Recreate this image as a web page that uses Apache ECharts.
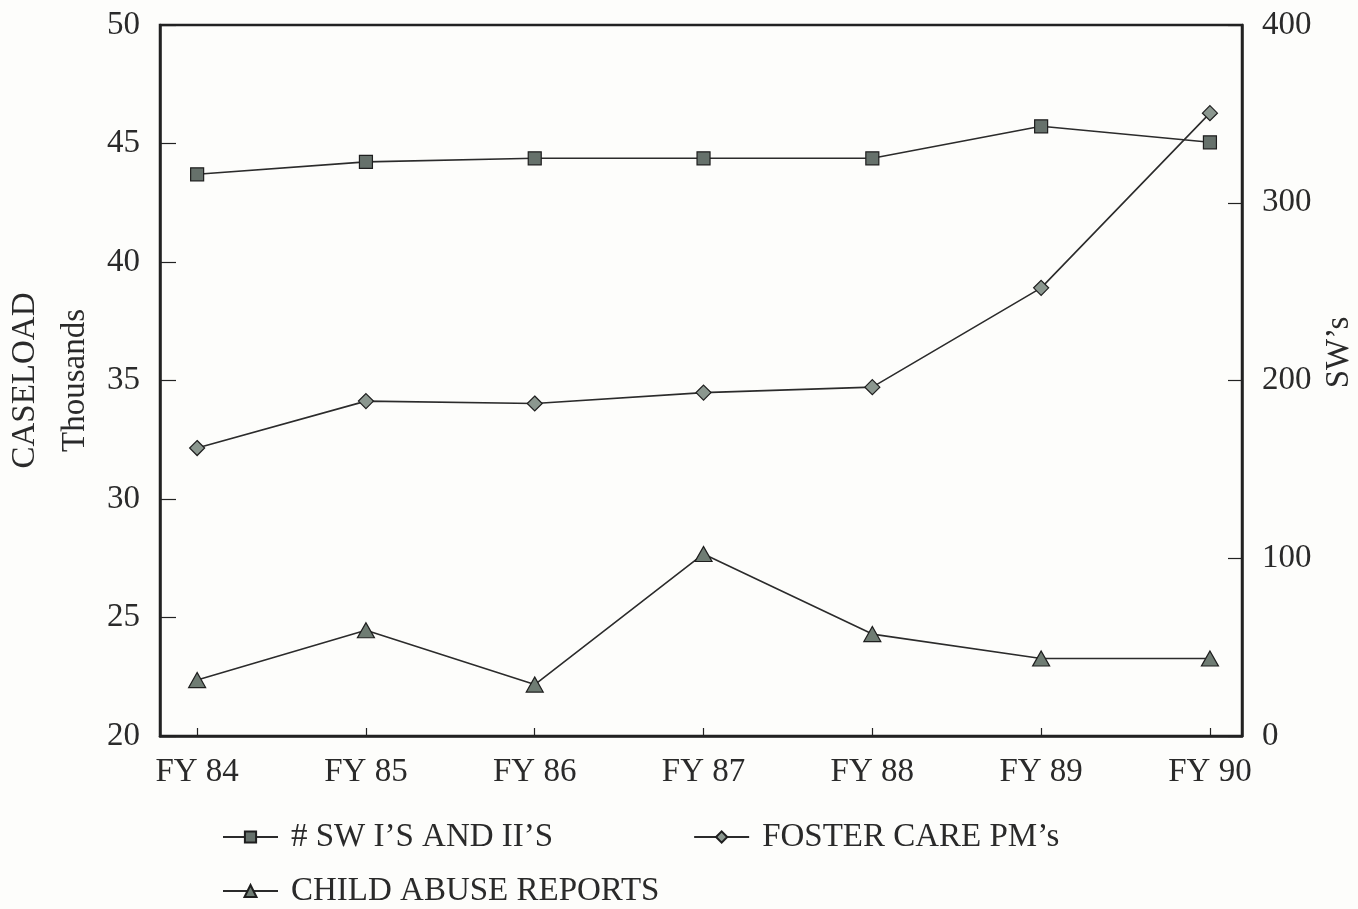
<!DOCTYPE html>
<html>
<head>
<meta charset="utf-8">
<script src="https://cdn.jsdelivr.net/npm/echarts@6/dist/echarts.min.js"></script>
<style>
  html, body { margin: 0; padding: 0; background: #fdfdfb; }
  #chart { width: 1358px; height: 909px; }
</style>
</head>
<body>
<div id="chart"></div>
<script>
// ---- data ----
const categories = ['FY 84', 'FY 85', 'FY 86', 'FY 87', 'FY 88', 'FY 89', 'FY 90'];
const swCount = [316, 323, 325, 325, 325, 343, 334];               // SW's (right axis)
const fosterCare = [32.15, 34.13, 34.03, 34.49, 34.72, 38.91, 46.28]; // thousands (left axis)
const childAbuse = [22.36, 24.46, 22.17, 27.68, 24.30, 23.27, 23.27]; // thousands (left axis)
const leftTicks = [20, 25, 30, 35, 40, 45, 50];
const rightTicks = [0, 100, 200, 300, 400];
const seriesNames = ["# SW I\u2019S AND II\u2019S", "FOSTER CARE PM\u2019s", "CHILD ABUSE REPORTS"];

const FONT = "'Liberation Serif', 'DejaVu Serif', serif";
const INK = '#222';
const idx = categories.map((c, i) => i);
const pairs = arr => arr.map((v, i) => [idx[i], v]);

const chart = echarts.init(document.getElementById('chart'), null, { renderer: 'canvas' });

const txt = { fontFamily: FONT, fontSize: 33, color: '#2a2a2a' };

chart.setOption({
  backgroundColor: '#fdfdfb',
  animation: false,
  grid: {
    left: 160, right: 116, top: 25, bottom: 173,
    outerBoundsMode: 'none', containLabel: false,
    show: true, borderColor: INK, borderWidth: 2.5, backgroundColor: 'transparent'
  },
  xAxis: {
    type: 'value',
    min: -0.22, max: 6.19,
    splitLine: { show: false },
    axisLine: { show: true, onZero: false, lineStyle: { color: INK, width: 2.5 } },
    axisTick: { show: true, inside: true, length: 8, customValues: idx, lineStyle: { color: INK, width: 1.2 } },
    axisLabel: {
      customValues: idx, margin: 20,
      formatter: v => categories[Math.round(v)], ...txt
    }
  },
  yAxis: [
    {
      type: 'value', min: leftTicks[0], max: leftTicks[leftTicks.length - 1], interval: 5,
      position: 'left',
      splitLine: { show: false },
      axisLine: { show: true, onZero: false, lineStyle: { color: INK, width: 2.5 } },
      axisTick: { show: true, inside: true, length: 16, lineStyle: { color: INK, width: 1.2 } },
      axisLabel: { margin: 20, ...txt },
      name: 'CASELOAD\nThousands',
      nameLocation: 'middle', nameRotate: 90, nameGap: 60, nameMoveOverlap: false,
      nameTextStyle: { ...txt, lineHeight: 50 }
    },
    {
      type: 'value', min: rightTicks[0], max: rightTicks[rightTicks.length - 1], interval: 100,
      position: 'right',
      splitLine: { show: false },
      axisLine: { show: true, onZero: false, lineStyle: { color: INK, width: 2.5 } },
      axisTick: { show: true, inside: true, length: 14, lineStyle: { color: INK, width: 1.2 } },
      axisLabel: { margin: 20, ...txt },
      name: 'SW\u2019s',
      nameLocation: 'middle', nameRotate: 90, nameGap: 74,
      nameTextStyle: { ...txt, padding: [0, 0, 0, 56] }
    }
  ],
  legend: [
    {
      data: [seriesNames[0], seriesNames[1]],
      left: 217, top: 815, itemGap: 140,
      itemWidth: 55, itemHeight: 14,
      textStyle: { ...txt, lineHeight: 34, padding: [0, 0, 0, 8] }
    },
    {
      data: [seriesNames[2]],
      left: 217, top: 869,
      itemWidth: 55, itemHeight: 15,
      textStyle: { ...txt, lineHeight: 34, padding: [0, 0, 0, 8] }
    }
  ],
  series: [
    {
      name: seriesNames[0], type: 'line', yAxisIndex: 1,
      data: pairs(swCount),
      symbol: 'rect', symbolSize: 13,
      lineStyle: { color: '#2b2b2b', width: 1.6 },
      itemStyle: { color: '#66716b', borderColor: '#1e1e1e', borderWidth: 1.2 }
    },
    {
      name: seriesNames[1], type: 'line', yAxisIndex: 0,
      data: pairs(fosterCare),
      symbol: 'diamond', symbolSize: 15,
      lineStyle: { color: '#2b2b2b', width: 1.6 },
      itemStyle: { color: '#8b978f', borderColor: '#1e1e1e', borderWidth: 1.2 }
    },
    {
      name: seriesNames[2], type: 'line', yAxisIndex: 0,
      data: pairs(childAbuse),
      symbol: 'triangle', symbolSize: [17, 15],
      lineStyle: { color: '#2b2b2b', width: 1.6 },
      itemStyle: { color: '#6f7c73', borderColor: '#1e1e1e', borderWidth: 1.2 }
    }
  ]
});
</script>
</body>
</html>
